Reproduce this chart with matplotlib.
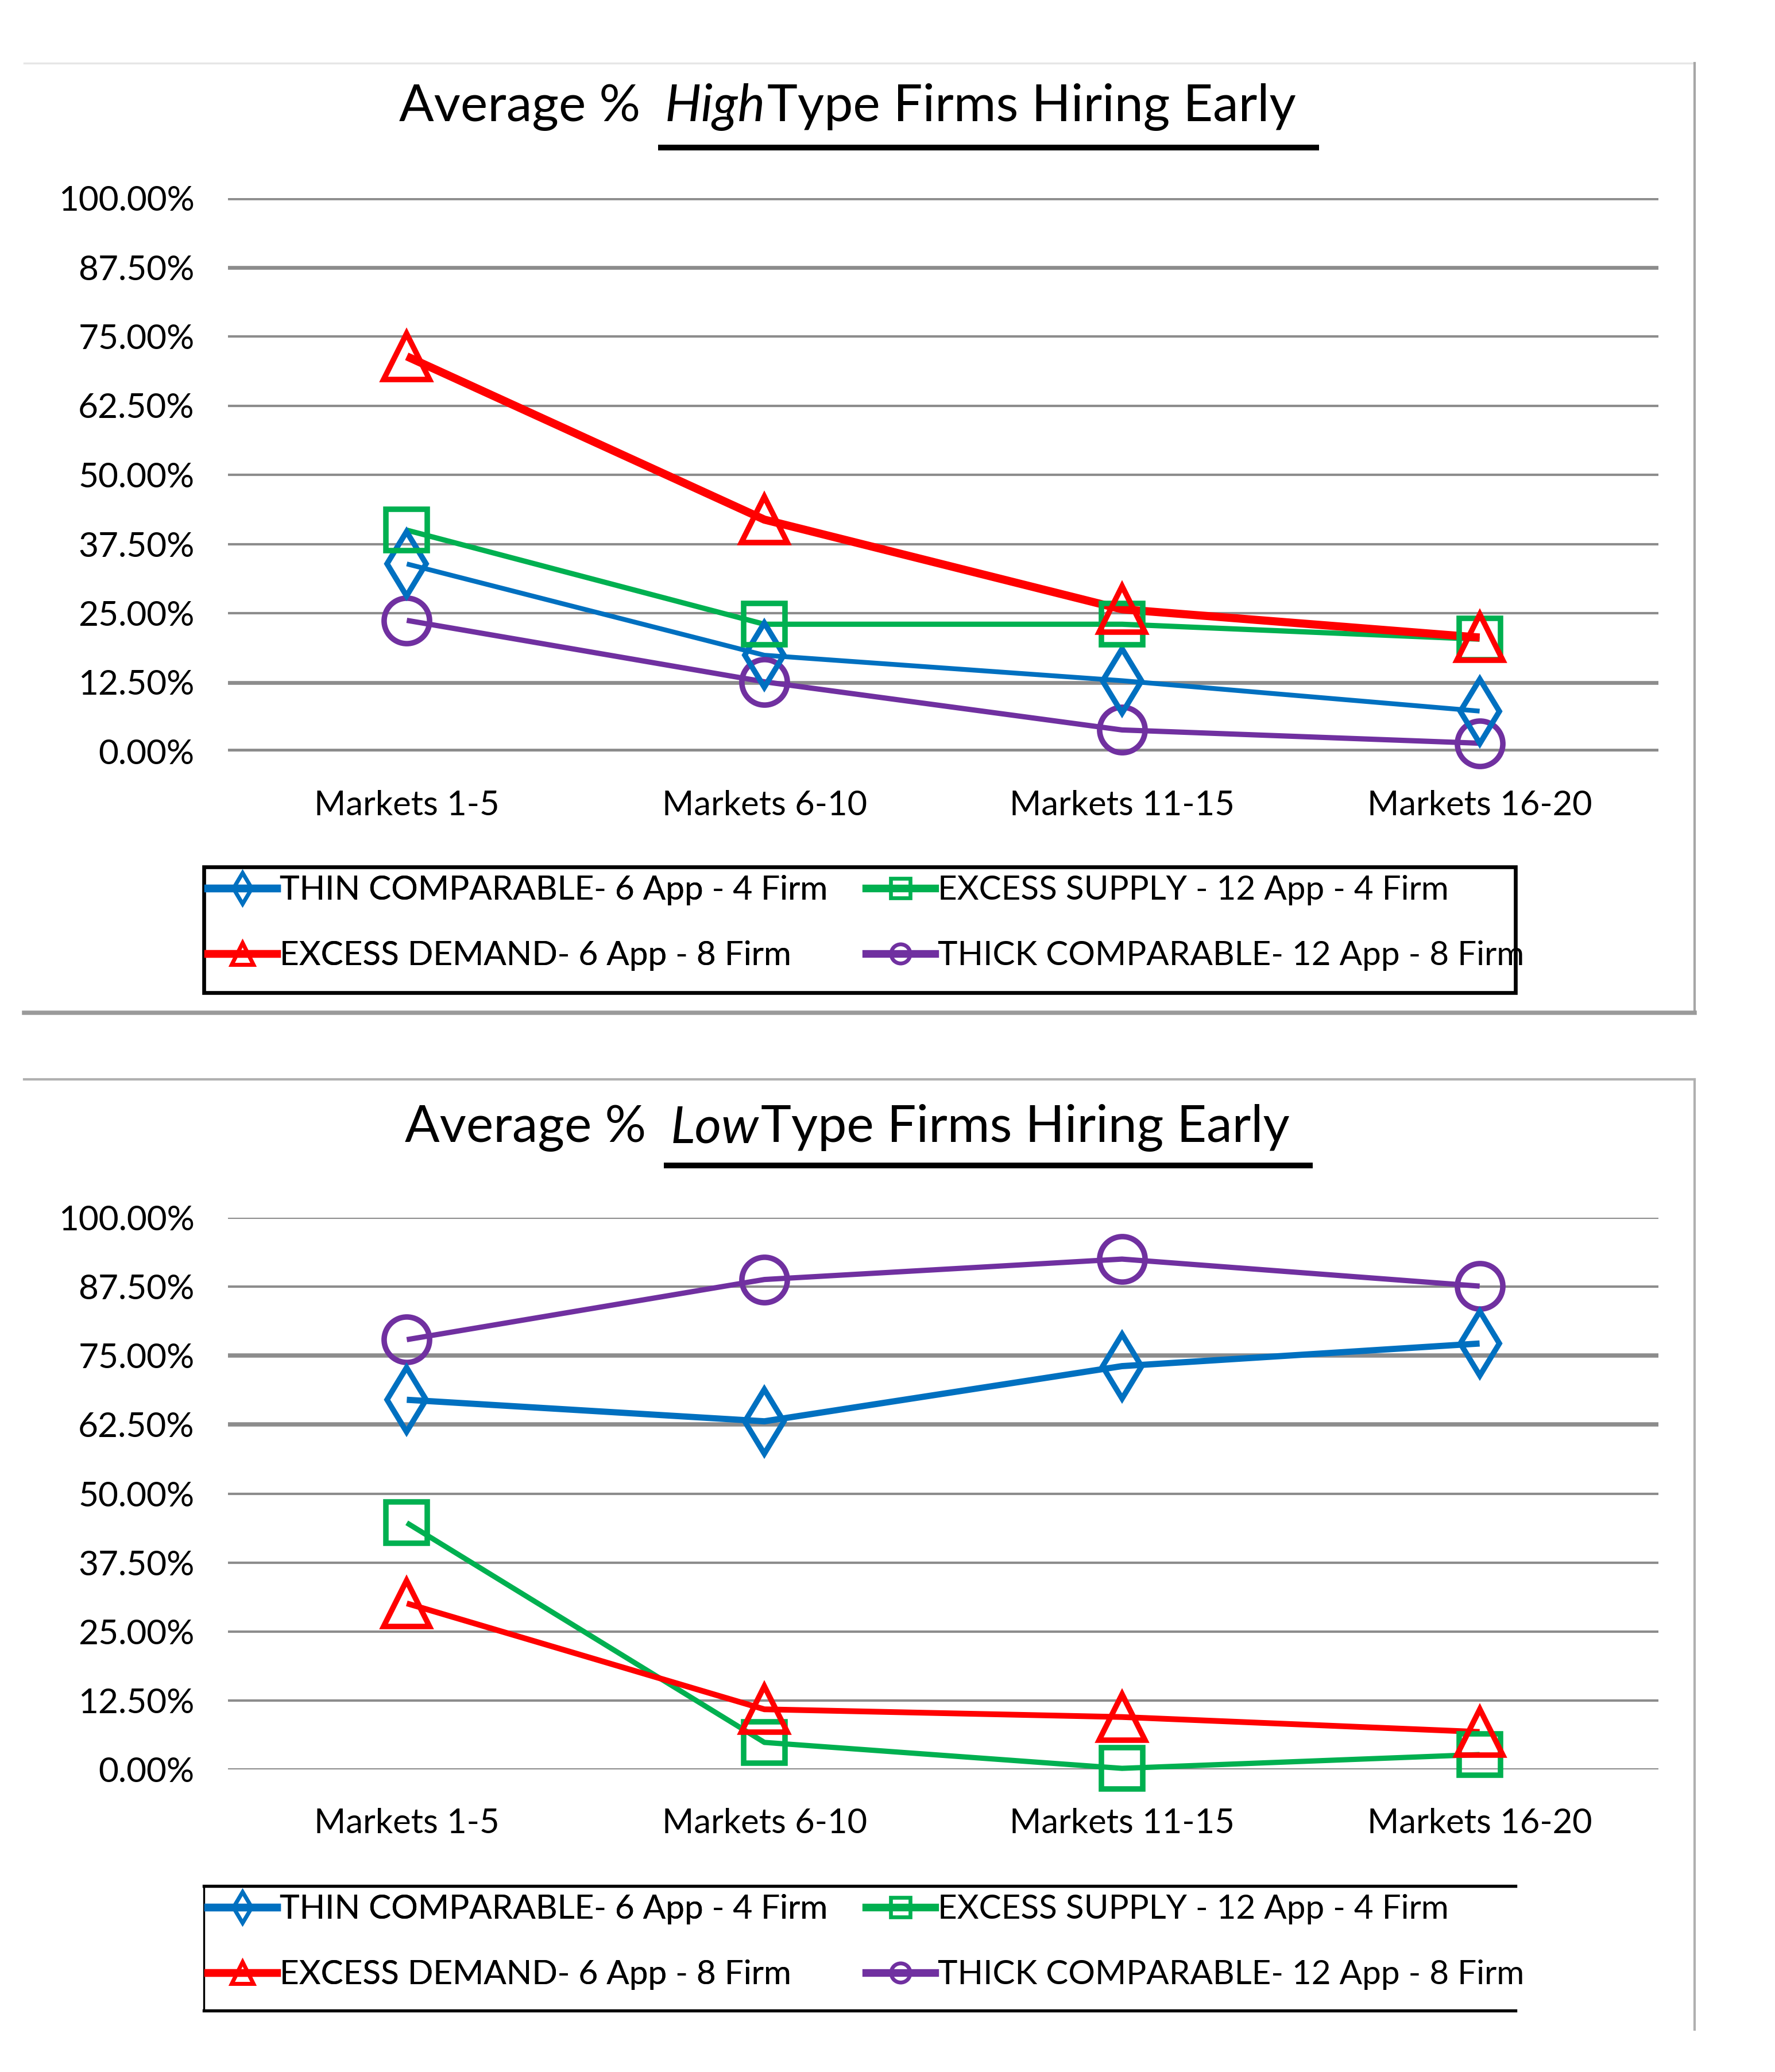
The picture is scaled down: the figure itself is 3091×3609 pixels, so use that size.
import matplotlib.pyplot as plt
from matplotlib.lines import Line2D
from matplotlib.patches import Rectangle

W, H = 3091, 3609
DPI = 300

CATEGORIES = ["Markets 1-5", "Markets 6-10", "Markets 11-15", "Markets 16-20"]
Y_TICKS = [0, 12.5, 25, 37.5, 50, 62.5, 75, 87.5, 100]
Y_TICK_LABELS = ["0.00%", "12.50%", "25.00%", "37.50%", "50.00%",
                 "62.50%", "75.00%", "87.50%", "100.00%"]

SERIES_NAMES = ["THIN COMPARABLE- 6 App - 4 Firm",
                "EXCESS DEMAND- 6 App - 8 Firm",
                "EXCESS SUPPLY - 12 App - 4 Firm",
                "THICK COMPARABLE- 12 App - 8 Firm"]

# high type firms (top panel)
HIGH_THIN = [33.9, 17.4, 12.8, 7.3]
HIGH_DEMAND = [71.4, 41.9, 25.7, 20.6]
HIGH_SUPPLY = [40.0, 23.0, 23.0, 20.3]
HIGH_THICK = [23.7, 12.6, 3.9, 1.5]

# low type firms (bottom panel)
LOW_THIN = [67.0, 63.1, 73.1, 77.2]
LOW_DEMAND = [30.1, 10.9, 9.5, 6.8]
LOW_SUPPLY = [44.7, 4.9, 0.2, 2.7]
LOW_THICK = [77.9, 88.8, 92.5, 87.6]

BLUE = "#0070C0"
RED = "#FF0000"
GREEN = "#00B050"
PURPLE = "#7030A0"
GRID = "#8c8c8c"

FONT = "Lato"
plt.rcParams['font.family'] = [FONT, 'DejaVu Sans']


def fx(px):
    return px / W


def fy(px):
    # pixel measured from top -> figure fraction
    return 1 - px / H


def draw_title(fig, word, left_px, mid_px, line_px):
    renderer = fig.canvas.get_renderer()
    t1 = fig.text(fx(left_px), fy(mid_px), "Average %", fontsize=21.5,
                  ha='left', va='center')
    e1 = t1.get_window_extent(renderer)
    x2 = (e1.x1 + 42) / W
    t2 = fig.text(x2, fy(mid_px), word, fontsize=21.5, style='italic',
                  ha='left', va='center')
    e2 = t2.get_window_extent(renderer)
    t3 = fig.text((e2.x1 + 4) / W, fy(mid_px), "Type Firms Hiring Early",
                  fontsize=21.5, ha='left', va='center')
    e3 = t3.get_window_extent(renderer)
    fig.add_artist(Line2D([x2 - 6 / W, (e3.x1 + 35) / W], [fy(line_px), fy(line_px)],
                          color='black', lw=2.4, transform=fig.transFigure))


def draw_panel(fig, rect, thin, demand, supply, thick, thick_grid, widths):
    ax = fig.add_axes(rect)
    x = list(range(len(CATEGORIES)))

    for i, t in enumerate(Y_TICKS):
        ax.axhline(t, color=GRID, lw=thick_grid[i], zorder=1)

    specs = [
        (thin, BLUE, 'd', 19, widths[0]),
        (demand, RED, '^', 19, widths[1]),
        (supply, GREEN, 's', 17.5, widths[2]),
        (thick, PURPLE, 'o', 19, widths[3]),
    ]
    order = [3, 0, 2, 1]
    for k in order:
        vals, col, mk, ms, lw = specs[k]
        ax.plot(x, vals, color=col, lw=lw, zorder=3, clip_on=False,
                solid_capstyle='butt')
        ax.plot(x, vals, ls='none', marker=mk, ms=ms, mfc='none', mec=col,
                mew=2.3, zorder=4, clip_on=False)

    ax.set_xlim(-0.5, 3.5)
    ax.set_ylim(0, 100)
    ax.set_yticks(Y_TICKS)
    ax.set_yticklabels(Y_TICK_LABELS)
    ax.set_xticks(x)
    ax.set_xticklabels(CATEGORIES)
    ax.tick_params(axis='y', length=0, pad=14, labelsize=14.5)
    ax.tick_params(axis='x', length=0, pad=16, labelsize=14.3)
    for s in ax.spines.values():
        s.set_visible(False)
    ax.patch.set_alpha(0)
    return ax


def draw_legend(fig, top_px, bottom_px, full_frame):
    handles = []
    specs = [(BLUE, 'd', 9), (RED, '^', 9), (GREEN, 's', 8), (PURPLE, 'o', 8)]
    for (col, mk, ms), name in zip(specs, SERIES_NAMES):
        handles.append(Line2D([], [], color=col, lw=3.2, marker=mk, ms=ms,
                              mfc='none', mec=col, mew=1.6, label=name))
    kw = dict(frameon=False, fontsize=14, handlelength=2.05, handletextpad=0.1,
              labelspacing=1.05, borderpad=0, borderaxespad=0, loc='upper left')
    leg1 = fig.legend(handles=[handles[0], handles[1]],
                      bbox_to_anchor=(fx(362), fy(top_px + 14)), **kw)
    fig.add_artist(leg1)
    fig.legend(handles=[handles[2], handles[3]],
               bbox_to_anchor=(fx(1508), fy(top_px + 14)), **kw)

    x0, x1 = fx(355), fx(2639)
    y0, y1 = fy(bottom_px), fy(top_px)
    if full_frame:
        fig.add_artist(Rectangle((x0, y0), x1 - x0, y1 - y0, fill=False,
                                 ec='black', lw=1.6, transform=fig.transFigure))
    else:
        for xs, ys, lw in [([x0, x1], [y1, y1], 1.3), ([x0, x1], [y0, y0], 1.3),
                           ([x0, x0], [y0, y1], 0.8)]:
            fig.add_artist(Line2D(xs, ys, color='black', lw=lw,
                                  transform=fig.transFigure))


fig = plt.figure(figsize=(W / DPI, H / DPI), dpi=DPI)
fig.patch.set_facecolor('white')

# panel frames
fig.add_artist(Line2D([fx(42), fx(2951)], [fy(110), fy(110)], color='#e6e6e6', lw=0.8,
                      transform=fig.transFigure))
fig.add_artist(Line2D([fx(2951), fx(2951)], [fy(110), fy(1764)], color='#a6a6a6', lw=1.0,
                      transform=fig.transFigure))
fig.add_artist(Line2D([fx(42), fx(2951)], [fy(1764), fy(1764)], color='#9a9a9a', lw=1.8,
                      transform=fig.transFigure))
fig.add_artist(Line2D([fx(42), fx(2951)], [fy(1880), fy(1880)], color='#b0b0b0', lw=1.0,
                      transform=fig.transFigure))
fig.add_artist(Line2D([fx(2951), fx(2951)], [fy(1880), fy(3535)], color='#b0b0b0', lw=1.0,
                      transform=fig.transFigure))

ax_w = fx(2888) - fx(397)
draw_panel(fig, [fx(397), fy(1309), ax_w, fy(345) - fy(1309)],
           HIGH_THIN, HIGH_DEMAND, HIGH_SUPPLY, HIGH_THICK,
           [2.6, 1.6, 1.0, 1.0, 1.0, 1.0, 1.0, 1.6, 1.6], [2.0, 3.4, 2.2, 2.2])
draw_panel(fig, [fx(397), fy(3082), ax_w, fy(2121) - fy(3082)],
           LOW_THIN, LOW_DEMAND, LOW_SUPPLY, LOW_THICK,
           [1.0, 1.0, 1.0, 1.0, 1.0, 1.8, 1.8, 1.0, 1.0], [2.6, 2.4, 2.2, 2.2])

draw_title(fig, "High", 695, 187, 257)
draw_title(fig, "Low", 705, 1965, 2030)

draw_legend(fig, 1510, 1729, True)
draw_legend(fig, 3285, 3502, False)

fig.savefig("out.png", dpi=DPI)
